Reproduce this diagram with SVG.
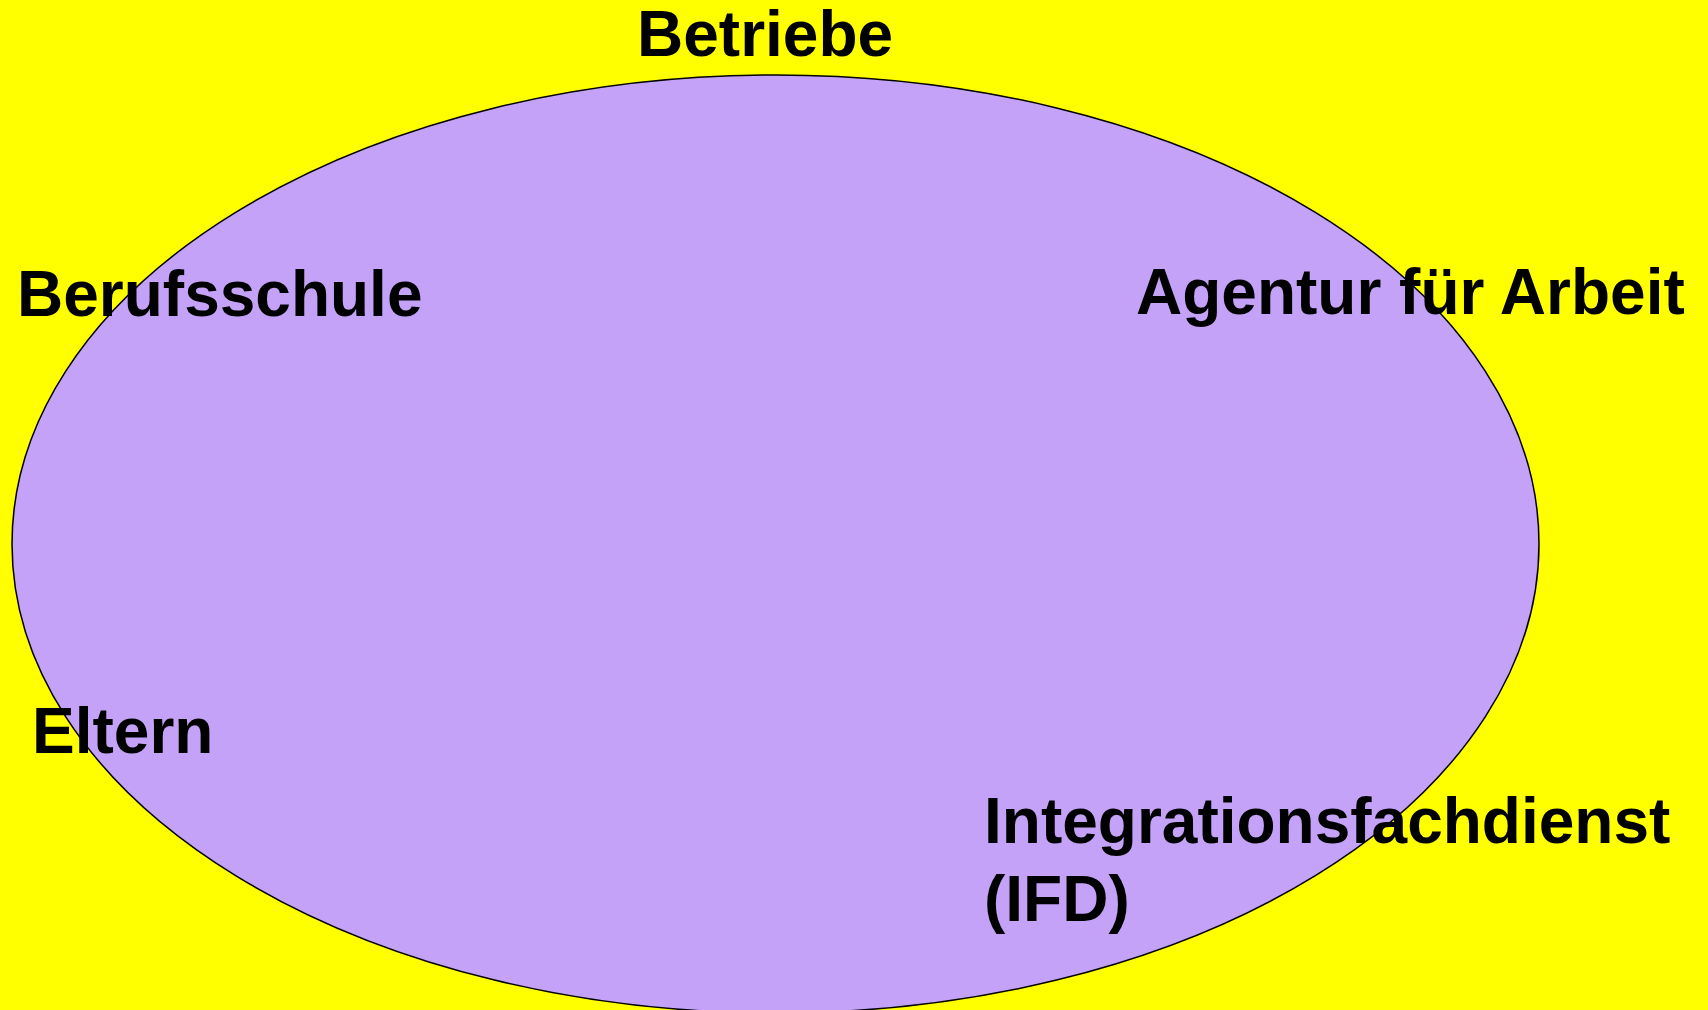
<svg xmlns="http://www.w3.org/2000/svg" width="1708" height="1010" viewBox="0 0 1708 1010">
<style>
.lbl{font-family:"Liberation Sans",Arial,sans-serif;font-weight:bold;font-size:64px;fill:#000}
</style>
<rect x="0" y="0" width="1708" height="1010" fill="#FFFF00"/>
<g id="circle">
<ellipse cx="775.5" cy="544" rx="763.5" ry="469" fill="#C4A2F7" stroke="#000" stroke-width="1.5"/>
</g>
<g id="connectors"></g>
<g id="betriebe"><text class="lbl" x="637" y="56">Betriebe</text></g>
<g id="berufsschule"><text class="lbl" x="17" y="316">Berufsschule</text></g>
<g id="agentur"><text class="lbl" x="1136" y="314">Agentur für Arbeit</text></g>
<g id="eltern"><text class="lbl" x="32" y="753">Eltern</text></g>
<g id="ifd"><text class="lbl" x="984" y="843">Integrationsfachdienst</text><text class="lbl" x="984" y="921">(IFD)</text></g>
</svg>
